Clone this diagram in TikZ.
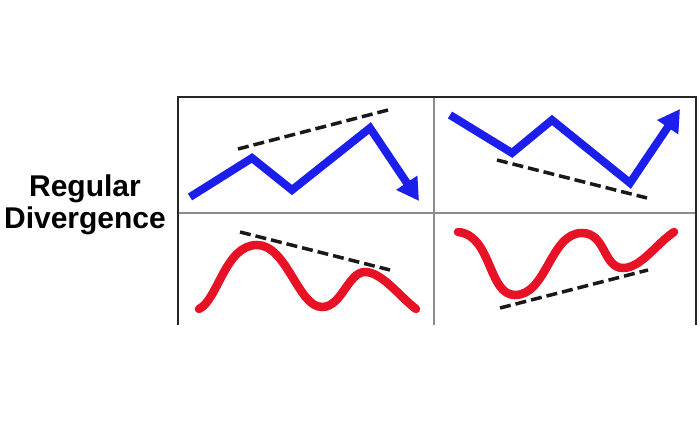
\documentclass[tikz,border=0pt]{standalone}
\usepackage{fontspec}
\setmainfont{Liberation Sans}
\usetikzlibrary{arrows.meta}
\definecolor{bl}{RGB}{28,30,235}
\definecolor{rd}{RGB}{232,18,38}
\tikzset{
  frameline/.style={line width=2.4pt, draw=black!85},
  midline/.style={line width=1.4pt, draw=black!45},
  bluepath/.style={line width=8pt, draw=bl, line join=miter, -{Triangle[length=22pt,width=24pt]}},
  redpath/.style={line width=8.5pt, draw=rd, line cap=round},
  trend/.style={line width=3.5pt, draw=black!90, dash pattern=on 11pt off 5pt},
  lbl/.style={font=\bfseries\fontsize{30}{34}\selectfont, align=center, inner sep=0pt}
}
\begin{document}
\begin{tikzpicture}[x=1pt,y=-1pt]
\useasboundingbox (0,0) rectangle (700,430);
\fill[white] (0,0) rectangle (700,430);
% frame
\coordinate (tl) at (178,97);
\coordinate (tr) at (696,97);
\coordinate (bl) at (178,325);
\coordinate (br) at (696,325);
\coordinate (mt) at (434,97);
\coordinate (mb) at (434,325);
\coordinate (ml) at (178,213);
\coordinate (mr) at (696,213);
\draw[midline] (mt) -- (mb);
\draw[midline] (ml) -- (mr);
\draw[frameline] (bl) -- (tl) -- (tr) -- (br);
% label
\node[lbl] (lab) at (85,205) {Regular\\[-2pt]Divergence};
% top-left
\draw[trend] (238,149) -- (388,110);
\draw[bluepath] (190,197) -- (252,158) -- (292,190) -- (370,128) -- (419,201);
% top-right
\draw[trend] (497,160) -- (647,198);
\draw[bluepath] (450,115) -- (512,153) -- (552,120) -- (630,183) -- (680,109);
% bottom-left
\draw[trend] (240,232) -- (390,270);
\draw[redpath] (199,309) .. controls (218,300) and (225,245) .. (257,245)
  .. controls (287,245) and (298,307) .. (322,307)
  .. controls (342,307) and (348,272) .. (365,272)
  .. controls (382,272) and (400,297) .. (416,309);
% bottom-right
\draw[trend] (500,308) -- (648,270);
\draw[redpath] (458,232) .. controls (492,235) and (488,295) .. (515,295)
  .. controls (547,295) and (550,233) .. (582,233)
  .. controls (606,233) and (603,268) .. (623,268)
  .. controls (641,268) and (656,244) .. (674,232);
\end{tikzpicture}
\end{document}
